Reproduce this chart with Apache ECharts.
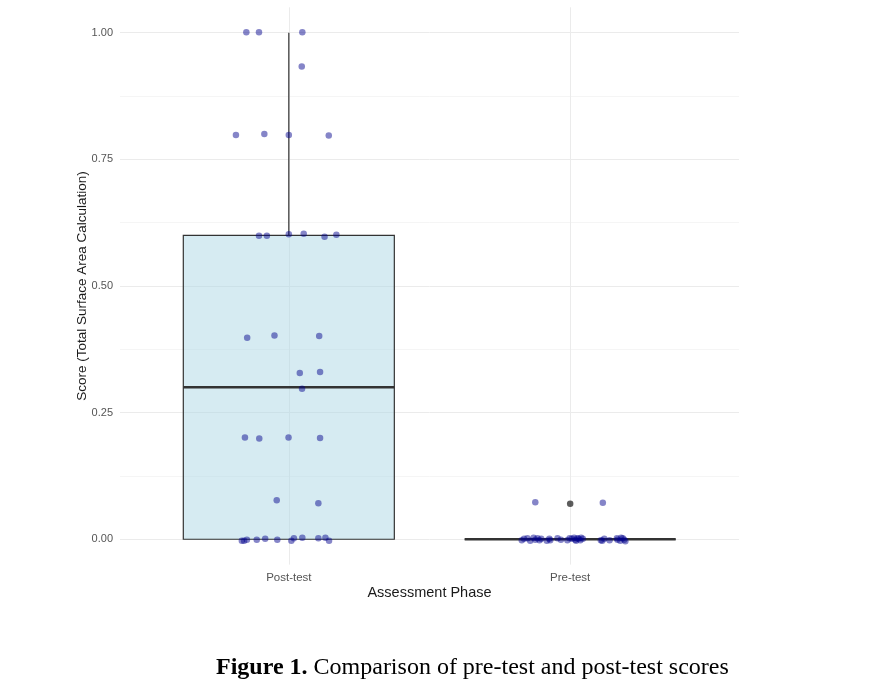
<!DOCTYPE html>
<html>
<head>
<meta charset="utf-8">
<script src="https://cdn.jsdelivr.net/npm/echarts@6/dist/echarts.min.js"></script>
<style>
  html, body { margin: 0; padding: 0; background: #fff; }
  #chart { width: 877px; height: 689px; }
</style>
</head>
<body>
<div id="chart"></div>
<script>
// 评估阶段（x 轴位置 1、2）
const categories = ['Post-test', 'Pre-test'];

// 箱线图五数：[x, 下须, Q1, 中位数, Q3, 上须]
const boxStats = [
    [1, 0, 0, 0.3, 0.6, 1.0],
    [2, 0, 0, 0, 0, 0]
];

// 离群点
const outliers = [[2, 0.07]];

// 抖动散点（x 为带抖动的位置，y 为得分）
const postX = [0.849, 0.894, 1.048, 1.046, 0.812, 0.913, 1.000, 1.142, 0.894, 0.922,
    1.000, 1.053, 1.127, 1.169, 0.852, 0.949, 1.108, 1.039, 1.111, 1.047,
    0.844, 0.895, 0.999, 1.111, 0.957, 1.105, 0.833, 0.841, 0.851, 0.886,
    0.916, 0.959, 1.009, 1.018, 1.048, 1.105, 1.130, 1.143];
const postY = [1.001, 1.001, 1.001, 0.933, 0.798, 0.800, 0.798, 0.797, 0.599, 0.599,
    0.602, 0.603, 0.597, 0.601, 0.398, 0.402, 0.401, 0.328, 0.330, 0.297,
    0.201, 0.199, 0.201, 0.200, 0.077, 0.071, -0.003, -0.003, -0.001, -0.001,
    0.001, -0.001, -0.003, 0.002, 0.003, 0.002, 0.003, -0.003];

const preX = [1.876, 2.116, 1.828, 1.836, 1.848, 1.858, 1.870, 1.876, 1.884, 1.891,
    1.897, 1.917, 1.926, 1.929, 1.955, 1.967, 1.990, 1.998, 2.006, 2.014,
    2.018, 2.021, 2.026, 2.030, 2.036, 2.039, 2.045, 2.109, 2.114, 2.121,
    2.140, 2.166, 2.168, 2.178, 2.181, 2.187, 2.192, 2.196];
const preY = [0.073, 0.072, -0.002, 0.001, 0.002, -0.003, 0.003, -0.001, 0.002, -0.002,
    0.001, -0.003, 0.001, -0.002, 0.002, -0.001, -0.002, 0.002, 0.001, 0.003,
    -0.001, -0.003, 0.002, 0.001, -0.002, 0.003, 0.001, -0.002, -0.003, 0.001,
    -0.002, 0.002, -0.001, -0.003, 0.003, 0.002, -0.001, -0.004];

const majorTicks = [0, 0.25, 0.5, 0.75, 1];
const minorTicks = [0.125, 0.375, 0.625, 0.875];

const sansFont = 'Liberation Sans, Arial, sans-serif';
const serifFont = 'Liberation Serif, Times New Roman, serif';
const pointColor = 'rgba(0,0,139,0.6)';

function zipPoints(xs, ys) {
    return xs.map((x, i) => [x, ys[i]]);
}

/**
 * 绘制箱体、须线与中位线
 */
function renderBox(params, api) {
    const x = api.value(0);
    const halfW = api.size([0.75, 0])[0] / 2;
    const pLo = api.coord([x, api.value(1)]);
    const pQ1 = api.coord([x, api.value(2)]);
    const pMed = api.coord([x, api.value(3)]);
    const pQ3 = api.coord([x, api.value(4)]);
    const pHi = api.coord([x, api.value(5)]);
    const edge = '#333333';
    return {
        type: 'group',
        children: [
            {
                type: 'line',
                shape: { x1: pQ3[0], y1: pQ3[1], x2: pHi[0], y2: pHi[1] },
                style: { stroke: edge, lineWidth: 1.2 }
            },
            {
                type: 'line',
                shape: { x1: pQ1[0], y1: pQ1[1], x2: pLo[0], y2: pLo[1] },
                style: { stroke: edge, lineWidth: 1.2 }
            },
            {
                type: 'rect',
                shape: { x: pQ3[0] - halfW, y: pQ3[1], width: halfW * 2, height: pQ1[1] - pQ3[1] },
                style: { fill: 'rgba(173,216,230,0.5)', stroke: edge, lineWidth: 1.2 }
            },
            {
                type: 'line',
                shape: { x1: pMed[0] - halfW, y1: pMed[1], x2: pMed[0] + halfW, y2: pMed[1] },
                style: { stroke: edge, lineWidth: 2.4 }
            }
        ]
    };
}

const chart = echarts.init(document.getElementById('chart'));

const option = {
    animation: false,
    backgroundColor: '#ffffff',
    title: {
        text: '{b|Figure 1.} Comparison of pre-test and post-test scores',
        left: 211,
        top: 651,
        textStyle: {
            fontFamily: serifFont,
            fontSize: 24,
            fontWeight: 'normal',
            color: '#000',
            rich: {
                b: {
                    fontFamily: serifFont,
                    fontSize: 24,
                    fontWeight: 'bold',
                    color: '#000'
                }
            }
        }
    },
    grid: {
        left: 120,
        right: 138,
        top: 7.3,
        bottom: 124.4
    },
    xAxis: {
        type: 'value',
        min: 0.4,
        max: 2.6,
        name: 'Assessment Phase',
        nameLocation: 'middle',
        nameGap: 21,
        nameMoveOverlap: false,
        nameTextStyle: { fontFamily: sansFont, fontSize: 14.5, color: '#1a1a1a' },
        axisLine: { show: false },
        axisTick: { show: false, customValues: [1, 2] },
        axisLabel: {
            customValues: [1, 2],
            formatter: (v) => categories[Math.round(v) - 1],
            margin: 7,
            fontFamily: sansFont,
            fontSize: 11.5,
            color: '#555'
        },
        splitLine: { show: true, lineStyle: { color: '#ebebeb', width: 1 } }
    },
    yAxis: [
        {
            type: 'value',
            min: -0.05,
            max: 1.05,
            name: 'Score (Total Surface Area Calculation)',
            nameLocation: 'middle',
            nameGap: 31,
            nameMoveOverlap: false,
            nameTextStyle: { fontFamily: sansFont, fontSize: 13.5, color: '#1a1a1a' },
            axisLine: { show: false },
            axisTick: { show: false, customValues: majorTicks },
            axisLabel: {
                customValues: majorTicks,
                formatter: (v) => v.toFixed(2),
                margin: 7,
                fontFamily: sansFont,
                fontSize: 11,
                color: '#555'
            },
            splitLine: { show: true, lineStyle: { color: '#ebebeb', width: 1 } }
        },
        {
            type: 'value',
            min: -0.05,
            max: 1.05,
            position: 'left',
            axisLine: { show: false },
            axisTick: { show: false, customValues: minorTicks },
            axisLabel: { show: false, customValues: minorTicks },
            splitLine: { show: true, lineStyle: { color: '#f3f3f3', width: 0.8 } }
        }
    ],
    series: [
        {
            type: 'custom',
            renderItem: renderBox,
            encode: { x: 0, y: [1, 2, 3, 4, 5] },
            data: boxStats,
            clip: false,
            z: 2
        },
        {
            type: 'scatter',
            data: outliers,
            symbolSize: 6.5,
            itemStyle: { color: '#333333' },
            z: 3
        },
        {
            type: 'scatter',
            name: 'Post-test',
            data: zipPoints(postX, postY),
            symbolSize: 6.5,
            itemStyle: { color: pointColor },
            z: 4
        },
        {
            type: 'scatter',
            name: 'Pre-test',
            data: zipPoints(preX, preY),
            symbolSize: 6.5,
            itemStyle: { color: pointColor },
            z: 4
        }
    ]
};

chart.setOption(option);
</script>
</body>
</html>
